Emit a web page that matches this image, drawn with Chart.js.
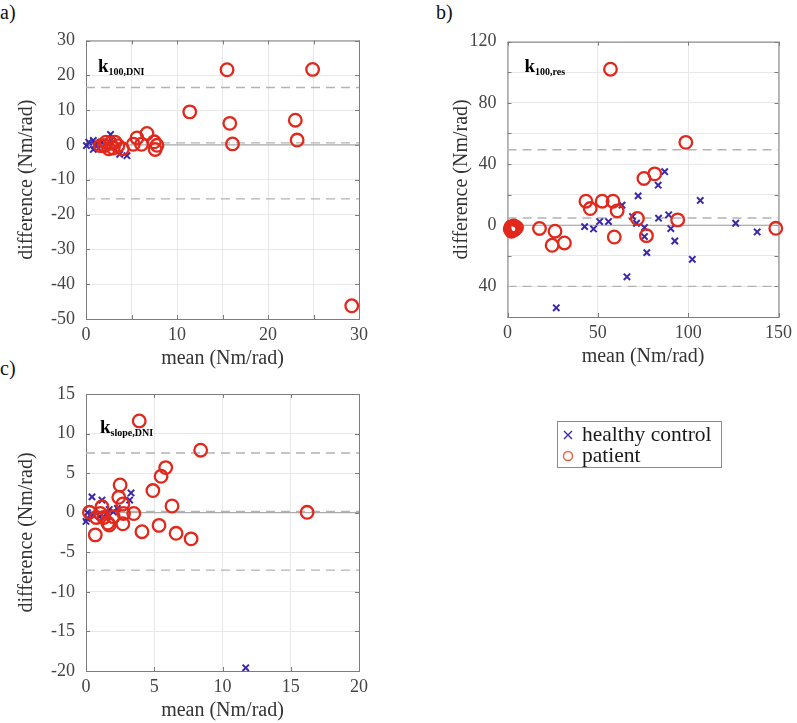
<!DOCTYPE html>
<html>
<head>
<meta charset="utf-8">
<script src="https://cdn.jsdelivr.net/npm/chart.js@4.4.1/dist/chart.umd.min.js"></script>
<style>
  body { margin: 0; background: #fff; width: 797px; height: 723px; overflow: hidden; position: relative; font-family: "Liberation Serif", serif; }
  canvas { position: absolute; }
  .tag { position: absolute; font-size: 20px; color: #111; line-height: 20px; }
</style>
</head>
<body>
<div class="tag" style="left:0px;top:2px">a)</div>
<div class="tag" style="left:436px;top:2px">b)</div>
<div class="tag" style="left:0px;top:358px">c)</div>
<canvas id="chartA" width="400" height="371" style="left:0;top:0"></canvas>
<canvas id="chartB" width="377" height="369" style="left:420px;top:0"></canvas>
<canvas id="chartC" width="797" height="368" style="left:0;top:355px"></canvas>
<script>
// panel a) k100,DNI
const aHealthyX = [0.05, 0.3, 0.8, 1.0, 1.4, 0.8, 1.7, 2.7, 2.8, 3.7, 4.5]
const aHealthyY = [-0.2, 0.8, 1.3, 0.0, -0.9, -1.3, 0.8, 3.0, 1.6, -2.7, -3.1]
const aPatientX = [1.6, 2.0, 2.2, 2.5, 2.7, 3.0, 3.2, 3.5, 4.0, 5.2, 5.6, 6.1, 6.7, 7.5, 7.8, 7.6, 11.4, 15.5, 15.8, 16.1, 23.0, 23.2, 24.9, 29.2]
const aPatientY = [-0.2, -0.2, 0.8, -1.1, 0.5, -0.9, 0.8, -0.2, -1.1, 0.2, 2.0, 0.2, 3.3, 0.9, -0.1, -1.3, 9.5, 21.6, 6.2, 0.3, 7.1, 1.4, 21.7, -46.2]
const aLimits = [16.5, 0.6, -15.5]

// panel b) k100,res
const bHealthyX = [27, 42.7, 47.6, 51, 55.9, 63.4, 66.1, 69.2, 71.4, 72.3, 75.8, 75.8, 77.1, 83.4, 83.6, 87, 89.2, 90.4, 92.6, 102.3, 106.7, 126.3, 138.2]
const bHealthyY = [-54, -0.9, -2.4, 2.4, 2.4, 13.1, -33.7, 5.7, 1.3, 19.2, -1.5, -7.4, -17.9, 26.2, 4.6, 35, 6.8, -2.2, -10.3, -22.3, 16.2, 1.3, -4.4]
const bPatientX = [2.0, 2.5, 3.0, 3.5, 4.0, 5.0, 1.5, 2.2, 17.7, 26.3, 24.7, 31.5, 43.4, 45.8, 52.4, 57, 58.4, 59.1, 60.7, 71.9, 75.5, 76.9, 81.5, 94.2, 98.7, 148.5]
const bPatientY = [-1.0, -3.5, -2.0, -0.5, -2.8, -1.5, -2.5, -4.0, -2.1, -3.9, -13.1, -11.6, 15.7, 10.9, 15.7, 102, 15.7, -7.7, 9.4, 4.4, 30.6, -6.8, 33.6, 3.5, 54.2, -2.0]
const bLimits = [49.4, 4.7, -40]

// panel c) kslope,DNI
const cHealthyX = [0.0, 0.07, 0.1, 0.44, 0.5, 1.0, 1.17, 1.5, 1.7, 2.0, 2.3, 3.2, 3.3, 11.7]
const cHealthyY = [-1.1, -0.7, 0, 2.0, -0.3, -0.5, 1.6, -0.1, 0.4, 0.1, 0.55, 1.6, 2.5, -19.6]
const cPatientX = [0.25, 0.75, 1.05, 1.17, 1.3, 1.6, 1.7, 2.0, 2.4, 2.5, 2.7, 2.75, 2.7, 3.5, 0.68, 4.1, 3.9, 4.9, 5.35, 5.5, 5.84, 6.3, 6.6, 7.7, 8.4, 16.2]
const cPatientY = [0.05, -0.6, -0.1, 0.75, -0.6, -1.3, -1.55, -0.5, 1.95, 3.5, 1.1, -0.1, -1.4, -0.1, -2.8, -2.4, 11.6, 2.8, -1.6, 4.6, 5.7, 0.85, -2.6, -3.3, 7.9, 0.05]
const cLimits = [7.55, 0.15, -7.25]

const legendLabels = [`healthy control`, `patient`]

const red = `#e2281c`
const blue = `#3b2aa8`
const serif = `'Liberation Serif'`
Chart.defaults.font.family = serif
const zip = (xs, ys) => xs.map((x, i) => ({ x, y: ys[i] }))
const hline = (y, x0, x1) => [{ x: x0, y }, { x: x1, y }]

// box, inner ticks and the bold k label
const decor = {
  id: `decor`,
  beforeDatasetsDraw(chart, args, o) {
    const { ctx, chartArea: a, scales } = chart
    ctx.save()
    ctx.strokeStyle = `#7d7d7d`
    ctx.lineWidth = 1
    ctx.strokeRect(a.left + 0.5, a.top + 0.5, a.right - a.left, a.bottom - a.top)
    ctx.beginPath()
    scales.x.ticks.forEach(t => {
      const p = Math.round(scales.x.getPixelForValue(t.value)) + 0.5
      ctx.moveTo(p, a.bottom); ctx.lineTo(p, a.bottom - 4)
      ctx.moveTo(p, a.top); ctx.lineTo(p, a.top + 4)
    })
    scales.y.ticks.forEach(t => {
      const p = Math.round(scales.y.getPixelForValue(t.value)) + 0.5
      ctx.moveTo(a.left, p); ctx.lineTo(a.left + 4, p)
      ctx.moveTo(a.right, p); ctx.lineTo(a.right - 4, p)
    })
    ctx.stroke()
    ctx.restore()
  },
  afterDraw(chart, args, o) {
    const { ctx, chartArea: a } = chart
    ctx.save()
    ctx.fillStyle = `#000`
    ctx.font = `bold 19px ${serif}`
    ctx.fillText(`k`, a.left + o.dx, a.top + o.dy)
    const w = ctx.measureText(`k`).width
    ctx.font = `bold 10px ${serif}`
    ctx.fillText(o.sub, a.left + o.dx + w, a.top + o.dy + 3)
    if (o.legend) {
      const L = o.legend
      ctx.strokeStyle = `#8a8a8a`
      ctx.lineWidth = 1
      ctx.strokeRect(L.x + 0.5, L.y + 0.5, L.w, L.h)
      ctx.font = `21.5px ${serif}`
      ctx.textBaseline = `middle`
      ctx.fillStyle = `#1a1a1a`
      legendLabels.forEach((txt, i) => {
        const cy = L.y + L.row0 + i * L.gap
        const cx = L.x + 11
        ctx.lineWidth = 1.4
        if (i === 0) {
          ctx.strokeStyle = blue
          ctx.beginPath()
          ctx.moveTo(cx - 4, cy - 4); ctx.lineTo(cx + 4, cy + 4)
          ctx.moveTo(cx - 4, cy + 4); ctx.lineTo(cx + 4, cy - 4)
          ctx.stroke()
        } else {
          ctx.strokeStyle = `#ee5a40`
          ctx.beginPath()
          ctx.arc(cx, cy, 4.5, 0, Math.PI * 2)
          ctx.stroke()
        }
        ctx.fillText(txt, L.x + 25, cy)
      })
    }
    ctx.restore()
  }
}

function panel(id, o) {
  const lines = [
    { data: hline(0, o.xMin, o.xMax), borderColor: `#9c9c9c`, borderWidth: 1 },
    ...o.limits.map(v => ({ data: hline(v, o.xMin, o.xMax), borderColor: `#b3b3b3`, borderWidth: 1.4, borderDash: [9, 6] }))
  ].map(d => Object.assign(d, { type: `line`, pointRadius: 0, fill: false, order: 3, showLine: true }))

  return new Chart(document.getElementById(id).getContext(`2d`), {
    type: `scatter`,
    data: {
      datasets: [
        { label: `patient`, data: zip(o.pX, o.pY), pointStyle: `circle`, pointRadius: 6.3, pointBorderWidth: 2.3,
          borderColor: red, backgroundColor: `rgba(0,0,0,0)`, order: 1, clip: false },
        { label: `healthy control`, data: zip(o.hX, o.hY), pointStyle: `crossRot`, pointRadius: 4.5, pointBorderWidth: 2,
          borderColor: blue, backgroundColor: blue, order: 2, clip: false },
        ...lines
      ]
    },
    options: {
      responsive: false,
      animation: false,
      events: [],
      layout: { padding: { left: 0, right: o.padR, top: o.padT, bottom: 0 } },
      plugins: {
        legend: { display: false },
        tooltip: { enabled: false },
        decor: { sub: o.sub, dx: o.kx, dy: o.ky, legend: o.legend }
      },
      scales: {
        x: {
          type: `linear`, min: o.xMin, max: o.xMax,
          afterFit: s => { s.height = 52 },
          border: { display: false },
          grid: { color: `#e8e8e8`, drawTicks: false },
          ticks: { stepSize: o.xStep, padding: 5, color: `#444`, font: { family: serif, size: 18 },
            callback: v => (Math.round(v) % o.xLabel === 0 ? String(Math.round(v)) : ``) },
          title: { display: true, text: `mean (Nm/rad)`, color: `#333`, font: { family: serif, size: 20 }, padding: { top: 0, bottom: 0 } }
        },
        y: {
          min: o.yMin, max: o.yMax,
          afterFit: s => { s.width = o.yW },
          border: { display: false },
          grid: { color: `#e8e8e8`, drawTicks: false },
          ticks: { stepSize: o.yStep, padding: 11, color: `#444`, font: { family: serif, size: 18 },
            callback: v => (Math.round(v) % o.yLabel === 0 ? o.fmt(Math.round(v)) : ``) },
          title: { display: true, text: `difference (Nm/rad)`, color: `#333`, font: { family: serif, size: 20 }, padding: { top: o.yTitlePad, bottom: 0 } }
        }
      }
    },
    plugins: [decor]
  })
}

panel(`chartA`, {
  hX: aHealthyX, hY: aHealthyY, pX: aPatientX, pY: aPatientY, limits: aLimits,
  xMin: 0, xMax: 30, xStep: 5, xLabel: 10, yMin: -50, yMax: 30, yStep: 10, yLabel: 10, fmt: v => String(v),
  yW: 86, padR: 41, padT: 40.5, yTitlePad: 15, sub: `100,DNI`, kx: 12, ky: 31
})

panel(`chartB`, {
  hX: bHealthyX, hY: bHealthyY, pX: bPatientX, pY: bPatientY, limits: bLimits,
  xMin: 0, xMax: 150, xStep: 50, xLabel: 50, yMin: -60, yMax: 120, yStep: 20, yLabel: 40, fmt: v => String(Math.abs(v)),
  yW: 87.5, padR: 12, padT: 41.7, yTitlePad: 30, sub: `100,res`, kx: 17, ky: 30
})

panel(`chartC`, {
  hX: cHealthyX, hY: cHealthyY, pX: cPatientX, pY: cPatientY, limits: cLimits,
  xMin: 0, xMax: 20, xStep: 5, xLabel: 5, yMin: -20, yMax: 15, yStep: 5, yLabel: 5, fmt: v => String(v),
  yW: 86, padR: 438, padT: 39, yTitlePad: 15, sub: `slope,DNI`, kx: 14, ky: 39,
  legend: { x: 557, y: 66, w: 164, h: 46, row0: 14, gap: 21 }
})
</script>
</body>
</html>
